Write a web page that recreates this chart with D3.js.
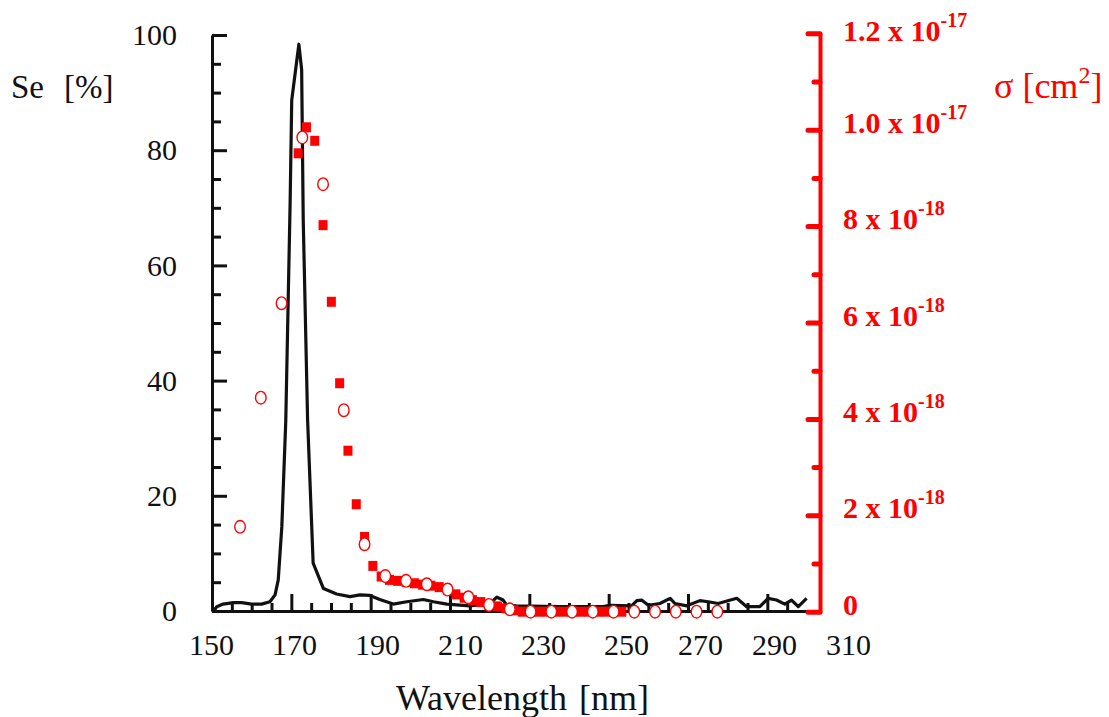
<!DOCTYPE html>
<html>
<head>
<meta charset="utf-8">
<script src="https://cdn.jsdelivr.net/npm/d3@7"></script>
<style>
body { margin: 0; background: #fff; }
svg text { font-family: "Liberation Serif", "Times New Roman", serif; }
.red { fill: #ff0000; }
</style>
</head>
<body>
<div id="chart"></div>
<script>
// scanned Se spectrum (black line) : wavelength nm / Se %
var seWavelength = [150.5,151.2,152.8,155.4,157.5,160.0,162.5,164.6,165.9,166.7,167.6,168.6,169.7,170.1,171.9,172.6,173.0,174.1,175.5,178.1,181.4,184.8,187.3,189.8,192.3,195.7,199.1,203.3,205.8,209.2,215.0,220.1,221.8,223.4,224.3,226.8,237.7,248.6,250.3,255.8,257.1,258.3,260.0,262.9,265.5,266.7,269.7,273.0,275.1,277.6,282.3,284.8,288.1,290.2,292.3,294.4,296.1,297.8,299.9];
var seValues = [0.1,0.75,1.2,1.45,1.45,1.2,1.2,1.6,2.8,5.4,14.6,33,71,88.7,98.4,94.0,67.9,33.2,8.3,3.9,2.95,2.5,2.8,2.7,2.0,1.2,1.6,2.0,1.6,1.2,0.9,1.3,2.4,1.9,1.0,0.9,0.75,0.75,1.0,0.9,1.8,1.9,1.0,1.3,2.2,1.3,0.9,1.8,1.6,1.3,2.2,0.75,0.75,2.2,1.9,1.2,1.9,0.75,2.2];

// cross section, filled squares (units of 1e-18 cm2)
var sqWavelength = [171,173,175,177,179,181,183,185,187,189,191,193,195,197,199,201,203,205,207,209,211,213,215,217,219,221,223,225,227,229,231,233,235,237,239,241,243,245,247,249];
var sqSigma = [9.51,10.05,9.77,8.02,6.43,4.74,3.34,2.23,1.55,0.95,0.73,0.66,0.64,0.62,0.59,0.56,0.54,0.51,0.46,0.36,0.29,0.24,0.20,0.14,0.11,0.07,0.03,0,0,0,0,0,0,0,0,0,0,0,0,0];

// cross section, open circles (units of 1e-18 cm2)
var circWavelength = [157,162,167,172,177,182,187,192,197,202,207,212,217,222,227,232,237,242,247,252,257,262,267,272];
var circSigma = [1.76,4.44,6.40,9.84,8.87,4.18,1.40,0.74,0.64,0.57,0.46,0.30,0.14,0.05,0,0,0,0,0,0,0,0,0,0];

var xTickLabels = [150,170,190,210,230,250,270,290,310];
var seTicks = [0,20,40,60,80,100];
var seMinorTicks = [5,10,15,25,30,35,45,50,55,65,70,75,85,90,95];
var scanMajorTicks = [170,190,210,230,250,270,290];
var scanMinorTicks = [155,160,165,175,180,185,195,200,205,215,220,225,235,240,245,255,260,265,275,280,285,295];
var sigmaTicks = [0,2,4,6,8,10,12];
var sigmaMinorTicks = [1,3,5,7,9,11];
var sigmaMantissa = ["0","2 x 10","4 x 10","6 x 10","8 x 10","1.0 x 10","1.2 x 10"];
var sigmaExponent = ["","-18","-18","-18","-18","-17","-17"];

var W = 1109, H = 717;
var svg = d3.select('#chart').append('svg').attr('width', W).attr('height', H);
svg.append('rect').attr('width', W).attr('height', H).attr('fill', '#fff');

// the black spectrum sits on its own (scanned) axis 150..300
var xScan = d3.scaleLinear().domain([150, 300]).range([212, 807]);
// labels typed under the plot are not evenly spaced
var xLab = d3.scaleLinear().domain([150, 250, 310]).range([211, 626, 848]);
// red data
var xRed = d3.scaleLinear().domain([150, 250]).range([211, 626]);
var ySe = d3.scaleLinear().domain([0, 100]).range([611, 35]);
var ySig = d3.scaleLinear().domain([0, 12]).range([611.7, 33.3]);

// left axis
var gl = svg.append('g').attr('transform', 'translate(' + xScan(150) + ',0)');
gl.call(d3.axisLeft(ySe).tickValues(seTicks).tickSize(-15).tickSizeOuter(0).tickPadding(35));
gl.append('g').call(d3.axisLeft(ySe).tickValues(seMinorTicks).tickSize(-9).tickSizeOuter(0).tickFormat(''))
  .select('.domain').remove();
gl.selectAll('path, line').attr('stroke', '#111').attr('stroke-width', 3);
gl.selectAll('text').attr('font-size', 30).attr('fill', '#111');

// bottom (scanned) axis, ticks pointing up
var gb = svg.append('g').attr('transform', 'translate(0,' + ySe(0) + ')');
gb.call(d3.axisBottom(xScan).tickValues(scanMajorTicks).tickSize(-17).tickSizeOuter(0).tickFormat(''));
gb.append('g').call(d3.axisBottom(xScan).tickValues(scanMinorTicks).tickSize(-8).tickSizeOuter(0).tickFormat(''))
  .select('.domain').remove();
gb.selectAll('path, line').attr('stroke', '#111').attr('stroke-width', 3);

// tick labels under the plot
var gx = svg.append('g').attr('transform', 'translate(0,' + ySe(0) + ')');
gx.call(d3.axisBottom(xLab).tickValues(xTickLabels).tickSize(0).tickPadding(23));
gx.select('.domain').remove();
gx.selectAll('text').attr('font-size', 30).attr('fill', '#111');

// black spectrum
var seData = seWavelength.map(function(d, i){ return [d, seValues[i]]; });
svg.append('path')
    .datum(seData)
    .attr('fill', 'none')
    .attr('stroke', '#111')
    .attr('stroke-width', 3.2)
    .attr('stroke-linejoin', 'round')
    .attr('d', d3.line().x(function(d){ return xScan(d[0]); }).y(function(d){ return ySe(d[1]); }));

// squares
svg.append('g').selectAll('rect')
    .data(sqWavelength.map(function(d, i){ return [d, sqSigma[i]]; }))
    .enter().append('rect')
    .attr('x', function(d){ return xRed(d[0]) - 4.5; })
    .attr('y', function(d){ return ySig(d[1]) - 5; })
    .attr('width', 9)
    .attr('height', 10)
    .attr('fill', '#ff0000');

// circles
svg.append('g').selectAll('ellipse')
    .data(circWavelength.map(function(d, i){ return [d, circSigma[i]]; }))
    .enter().append('ellipse')
    .attr('cx', function(d){ return xRed(d[0]); })
    .attr('cy', function(d){ return ySig(d[1]); })
    .attr('rx', 5.3)
    .attr('ry', 6.3)
    .attr('fill', '#fff')
    .attr('stroke', '#ff0000')
    .attr('stroke-width', 1.4);

// red sigma axis
var gr = svg.append('g').attr('transform', 'translate(820,0)');
gr.call(d3.axisRight(ySig).tickValues(sigmaTicks).tickSize(-12).tickSizeOuter(0).tickFormat(''));
gr.append('g').call(d3.axisRight(ySig).tickValues(sigmaMinorTicks).tickSize(-6).tickSizeOuter(0).tickFormat(''))
  .select('.domain').remove();
gr.selectAll('path').attr('stroke', '#ff0000').attr('stroke-width', 4);
gr.selectAll('line').attr('stroke', '#ff0000').attr('stroke-width', 5).attr('stroke-linecap', 'round');

var lab = gr.selectAll('.siglab')
    .data(sigmaTicks)
    .enter().append('text')
    .attr('class', 'siglab red')
    .attr('x', 23)
    .attr('y', function(d){ return ySig(d) + (d == 12 ? 8 : 3); })
    .attr('font-size', 30)
    .attr('font-weight', 'bold');
lab.append('tspan').text(function(d, i){ return sigmaMantissa[i]; });
lab.append('tspan').attr('font-size', 20).attr('dy', -14).text(function(d, i){ return sigmaExponent[i]; });

// axis titles
var se = svg.append('text').attr('x', 11).attr('y', 98).attr('font-size', 33).attr('fill', '#111');
se.append('tspan').text('Se');
se.append('tspan').attr('x', 64).text('[%]');

var sg = svg.append('text').attr('class', 'red').attr('x', 994).attr('y', 98).attr('font-size', 36);
sg.append('tspan').text('σ [cm');
sg.append('tspan').attr('font-size', 24).attr('dy', -15).text('2');
sg.append('tspan').attr('dy', 15).text(']');

var wl = svg.append('text').attr('x', 396).attr('y', 710).attr('font-size', 36).attr('fill', '#111');
wl.append('tspan').text('Wavelength');
wl.append('tspan').attr('dx', 12).text('[nm]');
</script>
</body>
</html>
